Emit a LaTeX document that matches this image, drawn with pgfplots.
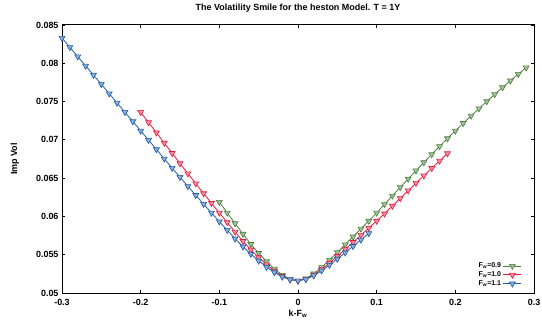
\documentclass[border=0pt]{standalone}
\usepackage{fontspec}
\setmainfont{Liberation Sans}
\usepackage{pgfplots}
\pgfplotsset{compat=1.18}
\definecolor{cg}{RGB}{74,128,58}
\definecolor{cr}{RGB}{226,28,62}
\definecolor{cb}{RGB}{28,92,168}
\begin{document}
\begin{tikzpicture}[x=1bp,y=1bp]
\path[use as bounding box] (0,0) rectangle (542,323);
\begin{axis}[at={(62bp,30bp)}, anchor=south west, scale only axis,
 width=472bp, height=268bp,
 xmin=-0.3, xmax=0.3, ymin=0.05, ymax=0.085,
 scaled y ticks=false, scaled x ticks=false,
 xtick={-0.3,-0.2,-0.1,0,0.1,0.2,0.3},
 xticklabels={-0.3,-0.2,-0.1,0,0.1,0.2,0.3},
 ytick={0.05,0.055,0.06,0.065,0.07,0.075,0.08,0.085},
 yticklabels={0.05,0.055,0.06,0.065,0.07,0.075,0.08,0.085},
 tick align=inside, xtick pos=both, ytick pos=both,
 major tick length=3bp,
 axis line style={line width=1bp},
 every tick/.style={black, line width=0.8bp},
 tick label style={font=\bfseries\fontsize{9}{10}\selectfont},
 xticklabel style={yshift=-3bp},
 title={The Volatility Smile for the heston Model. T = 1Y},
 title style={font=\bfseries\fontsize{9}{10}\selectfont, at={(axis description cs:0.5,1)}, anchor=center, yshift=11bp},
 xlabel={k-F\textsubscript{w}},
 xlabel style={font=\bfseries\fontsize{9}{10}\selectfont, at={(axis description cs:0.5,-0.078)}, anchor=center},
 ylabel={Imp Vol},
 ylabel style={font=\bfseries\fontsize{9}{10}\selectfont, at={(axis description cs:-0.1,0.5)}, anchor=center, rotate=0},
 legend style={at={(axis description cs:1,0)}, anchor=south east, xshift=-9bp, yshift=2bp,
   draw=none, fill=none, font=\bfseries\fontsize{7}{8}\selectfont, row sep=-1.5bp,
   legend plot pos=right, cells={anchor=east}},
 legend image code/.code={\draw[#1] (0bp,0bp) -- (18bp,0bp); \draw[#1, only marks] plot coordinates {(9bp,0bp)};},
 every axis plot/.append style={line width=0.8bp, mark=triangle*, mark size=3.4bp},
]
\addplot[color=cg, mark options={rotate=180, solid, fill=cg!50!white, line width=0.6bp}] coordinates {
(-0.10,0.06187) (-0.09,0.06047) (-0.08,0.05908) (-0.07,0.05771) (-0.06,0.05637)
(-0.05,0.05520) (-0.04,0.05412) (-0.03,0.05315) (-0.02,0.05235) (-0.01,0.05181)
(0.00,0.05160) (0.01,0.05187) (0.02,0.05252) (0.03,0.05336) (0.04,0.05431)
(0.05,0.05531) (0.06,0.05632) (0.07,0.05735) (0.08,0.05839) (0.09,0.05941)
(0.10,0.06047) (0.11,0.06159) (0.12,0.06270) (0.13,0.06381) (0.14,0.06490)
(0.15,0.06598) (0.16,0.06705) (0.17,0.06811) (0.18,0.06916) (0.19,0.07018)
(0.20,0.07118) (0.21,0.07217) (0.22,0.07314) (0.23,0.07409) (0.24,0.07502)
(0.25,0.07594) (0.26,0.07684) (0.27,0.07772) (0.28,0.07859) (0.29,0.07944)
};
\addlegendentry{F\textsubscript{w}=0.9}
\addplot[color=cr, mark options={rotate=180, solid, fill=cr!50!white, line width=0.6bp}] coordinates {
(-0.20,0.07362) (-0.19,0.07228) (-0.18,0.07094) (-0.17,0.06960) (-0.16,0.06826)
(-0.15,0.06692) (-0.14,0.06560) (-0.13,0.06430) (-0.12,0.06300) (-0.11,0.06173)
(-0.10,0.06047) (-0.09,0.05922) (-0.08,0.05798) (-0.07,0.05676) (-0.06,0.05566)
(-0.05,0.05464) (-0.04,0.05371) (-0.03,0.05288) (-0.02,0.05220) (-0.01,0.05176)
(0.00,0.05160) (0.01,0.05181) (0.02,0.05236) (0.03,0.05309) (0.04,0.05392)
(0.05,0.05481) (0.06,0.05571) (0.07,0.05663) (0.08,0.05756) (0.09,0.05849)
(0.10,0.05941) (0.11,0.06036) (0.12,0.06137) (0.13,0.06237) (0.14,0.06337)
(0.15,0.06435) (0.16,0.06533) (0.17,0.06630) (0.18,0.06726) (0.19,0.06822)
};
\addlegendentry{F\textsubscript{w}=1.0}
\addplot[color=cb, mark options={rotate=180, solid, fill=cb!50!white, line width=0.6bp}] coordinates {
(-0.30,0.08330) (-0.29,0.08209) (-0.28,0.08088) (-0.27,0.07967) (-0.26,0.07847)
(-0.25,0.07726) (-0.24,0.07604) (-0.23,0.07483) (-0.22,0.07362) (-0.21,0.07240)
(-0.20,0.07118) (-0.19,0.06997) (-0.18,0.06875) (-0.17,0.06753) (-0.16,0.06632)
(-0.15,0.06513) (-0.14,0.06394) (-0.13,0.06277) (-0.12,0.06161) (-0.11,0.06047)
(-0.10,0.05933) (-0.09,0.05821) (-0.08,0.05709) (-0.07,0.05605) (-0.06,0.05510)
(-0.05,0.05421) (-0.04,0.05340) (-0.03,0.05269) (-0.02,0.05212) (-0.01,0.05175)
(0.00,0.05160) (0.01,0.05179) (0.02,0.05227) (0.03,0.05291) (0.04,0.05365)
(0.05,0.05445) (0.06,0.05527) (0.07,0.05611) (0.08,0.05695) (0.09,0.05780)
};
\addlegendentry{F\textsubscript{w}=1.1}
\end{axis}
\end{tikzpicture}
\end{document}
